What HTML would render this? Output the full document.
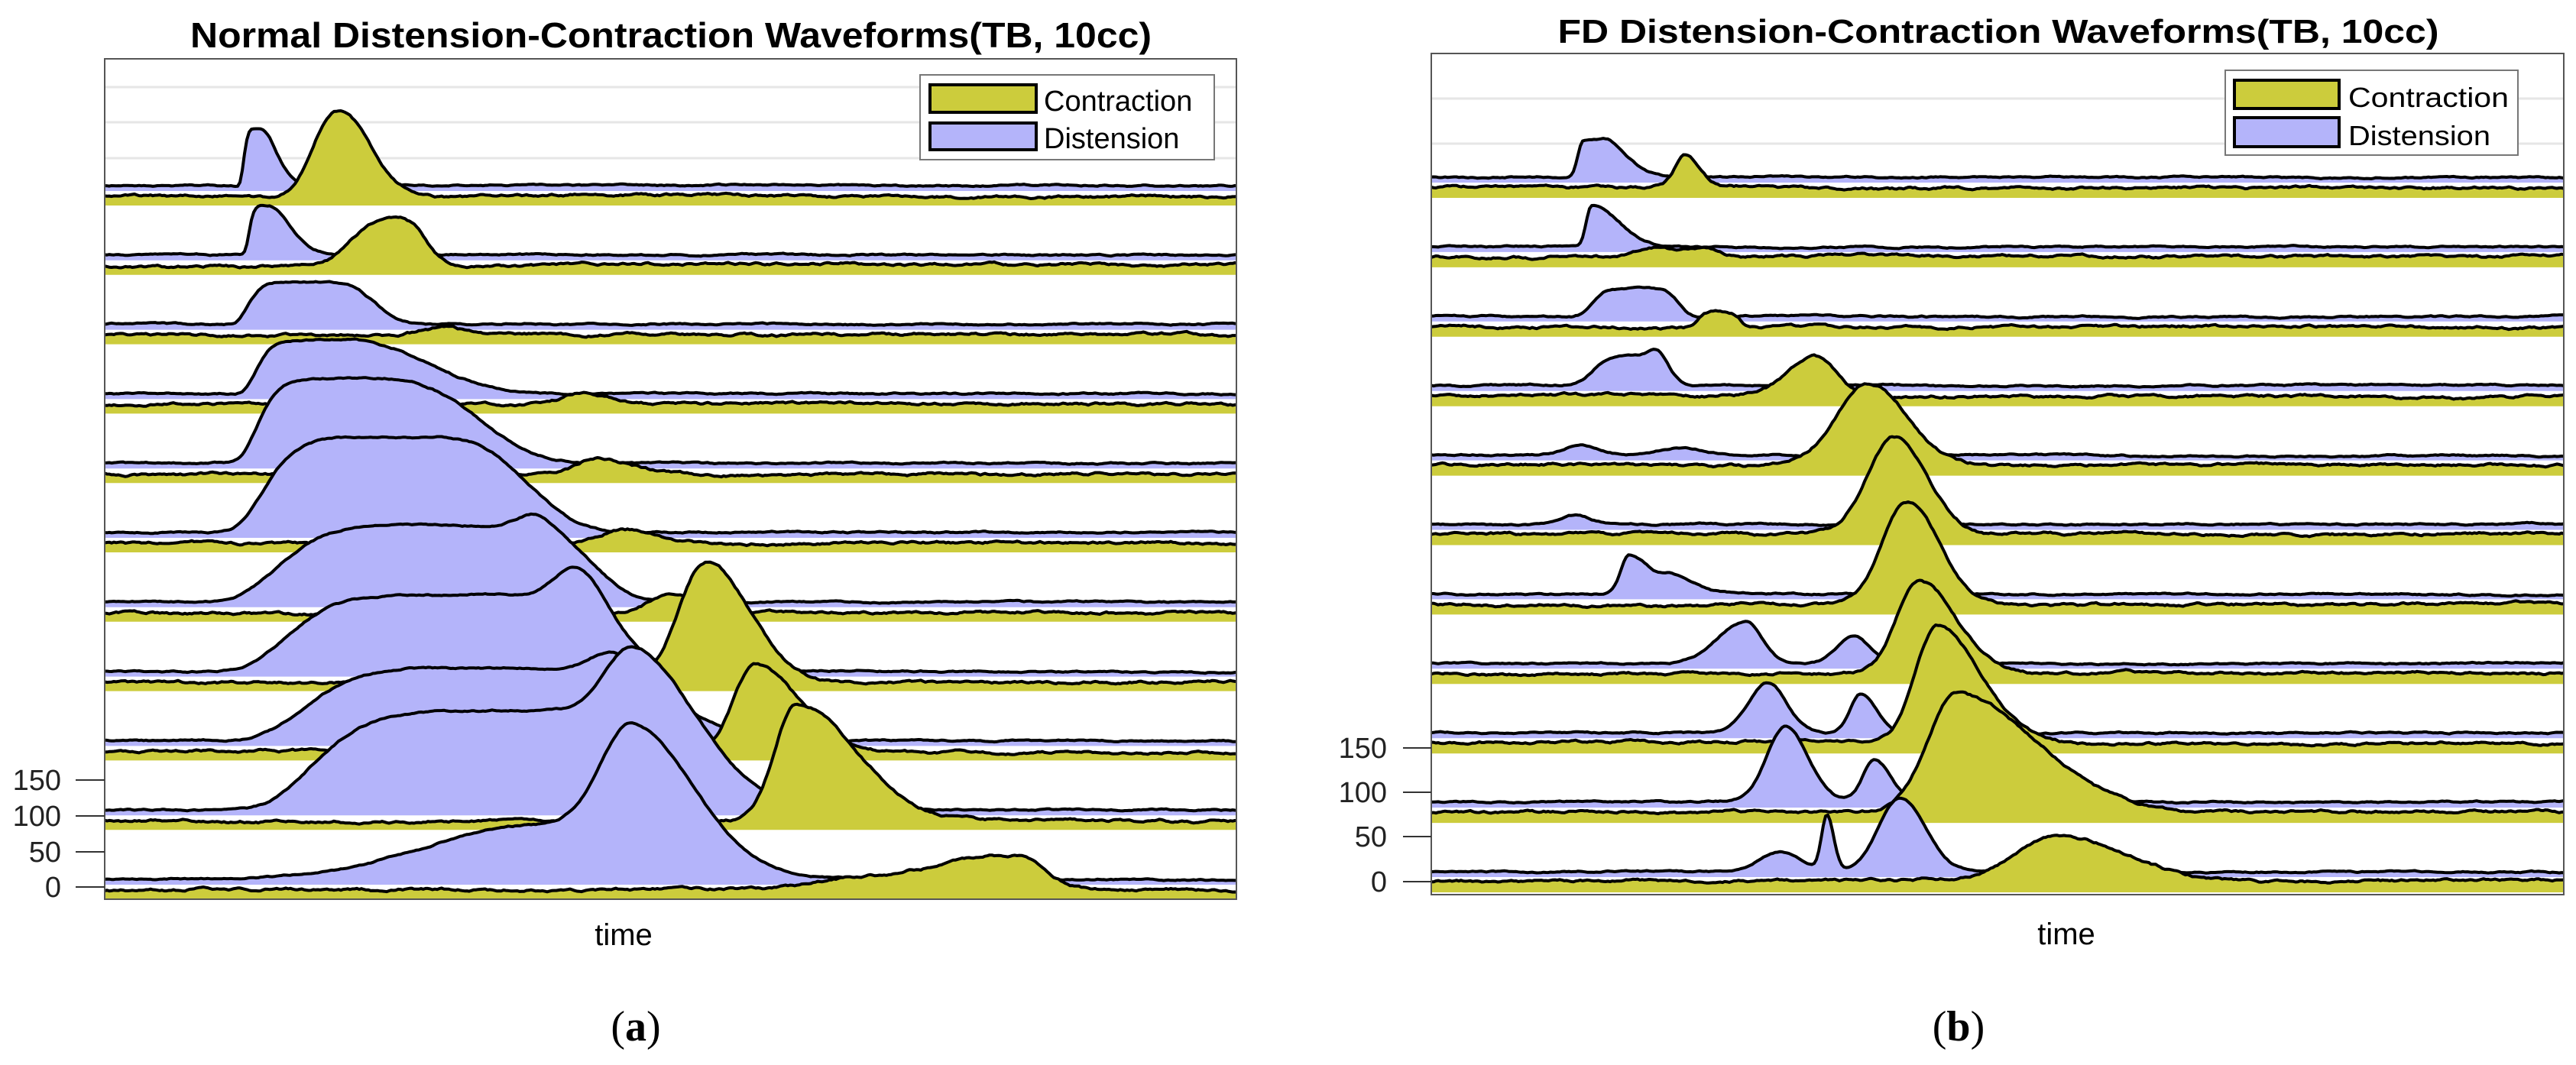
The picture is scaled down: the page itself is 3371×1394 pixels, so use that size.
<!DOCTYPE html>
<html><head><meta charset="utf-8"><style>
html,body{margin:0;padding:0;background:#fff;}
svg{display:block;}
</style></head><body>
<svg id="s" xmlns="http://www.w3.org/2000/svg" width="3371" height="1394" viewBox="0 0 3371 1394">
<defs>
<clipPath id="cl"><rect x="137" y="77" width="1481" height="1100"/></clipPath>
<clipPath id="cr"><rect x="1873" y="70" width="1482" height="1101"/></clipPath>
</defs>
<rect width="3371" height="1394" fill="#fff"/>
<g id="gl" clip-path="url(#cl)"></g>
<g id="gr" clip-path="url(#cr)"></g>
<rect x="137" y="77" width="1481" height="1100" fill="none" stroke="#555" stroke-width="2"/>
<rect x="1873" y="70" width="1482" height="1101" fill="none" stroke="#555" stroke-width="2"/>
<g font-family="Liberation Sans, Arial, sans-serif">
<text x="878" y="62" text-anchor="middle" font-size="46" font-weight="bold" textLength="1258" lengthAdjust="spacingAndGlyphs">Normal Distension-Contraction Waveforms(TB, 10cc)</text>
<text x="2615" y="56" text-anchor="middle" font-size="44" font-weight="bold" textLength="1153" lengthAdjust="spacingAndGlyphs">FD Distension-Contraction Waveforms(TB, 10cc)</text>
<rect x="1204" y="98" width="385" height="111" fill="#fff" stroke="#777" stroke-width="2"/>
<rect x="1217" y="111" width="139" height="36" fill="#CCCC3C" stroke="#000" stroke-width="4"/>
<rect x="1217" y="161" width="139" height="35" fill="#B4B4FA" stroke="#000" stroke-width="4"/>
<text x="1366" y="145" font-size="38">Contraction</text>
<text x="1366" y="194" font-size="38">Distension</text>
<rect x="2912" y="92" width="383" height="111" fill="#fff" stroke="#777" stroke-width="2"/>
<rect x="2924" y="105" width="137" height="37" fill="#CCCC3C" stroke="#000" stroke-width="4"/>
<rect x="2924" y="154" width="137" height="38" fill="#B4B4FA" stroke="#000" stroke-width="4"/>
<text x="3073" y="140" font-size="36" textLength="210" lengthAdjust="spacingAndGlyphs">Contraction</text>
<text x="3073" y="190" font-size="36" textLength="186" lengthAdjust="spacingAndGlyphs">Distension</text>
<g stroke="#333" stroke-width="2">
<line x1="99" y1="1021" x2="137" y2="1021"/><line x1="99" y1="1068" x2="137" y2="1068"/>
<line x1="99" y1="1115" x2="137" y2="1115"/><line x1="99" y1="1161" x2="137" y2="1161"/>
<line x1="1836" y1="979" x2="1873" y2="979"/><line x1="1836" y1="1037" x2="1873" y2="1037"/>
<line x1="1836" y1="1095" x2="1873" y2="1095"/><line x1="1836" y1="1154" x2="1873" y2="1154"/>
</g>
<g font-size="38" text-anchor="end" fill="#222">
<text x="80" y="1034">150</text><text x="80" y="1081">100</text><text x="80" y="1128">50</text><text x="80" y="1174">0</text>
<text x="1815" y="992">150</text><text x="1815" y="1050">100</text><text x="1815" y="1108">50</text><text x="1815" y="1167">0</text>
</g>
<text x="816" y="1237" font-size="40" text-anchor="middle">time</text>
<text x="2704" y="1236" font-size="40" text-anchor="middle">time</text>
</g>
<text x="832" y="1362" font-family="Liberation Serif, serif" font-size="56" text-anchor="middle">(<tspan font-weight="bold">a</tspan>)</text>
<text x="2563" y="1362" font-family="Liberation Serif, serif" font-size="56" text-anchor="middle">(<tspan font-weight="bold">b</tspan>)</text>
</svg>
<script>
(function(){
var NS="http://www.w3.org/2000/svg";
function rng(a){return function(){a|=0;a=a+0x6D2B79F5|0;var t=Math.imul(a^a>>>15,1|a);t=t+Math.imul(t^t>>>7,61|t)^t;return((t^t>>>14)>>>0)/4294967296;}}
function bump(x,b){var c=b[0],h=b[1],l=x<c,w=(l?b[2]:b[3]),p=(l?(b[4]||2):(b[5]||b[4]||2));return h*Math.exp(-Math.pow(Math.abs(x-c)/w,p));}
function curve(x0,x1,base,bumps,amp,seed){
  var r=rng(seed),n=0,pts=[],d=0;
  for(var x=x0;x<=x1;x+=3){
    n=n*0.85+(r()-0.5)*amp; d=d*0.99+(r()-0.5)*amp*0.25;
    var y=base+n+d;
    for(var i=0;i<bumps.length;i++)y-=bump(x,bumps[i]);
    pts.push([x,y]);
  }
  return pts;
}
function add(g,pts,bottom,fill){
  var s="M"+pts[0][0]+","+bottom;
  for(var i=0;i<pts.length;i++)s+="L"+pts[i][0]+","+pts[i][1].toFixed(1);
  s+="L"+pts[pts.length-1][0]+","+bottom+"Z";
  var p=document.createElementNS(NS,"path");p.setAttribute("d",s);p.setAttribute("fill",fill);g.appendChild(p);
  var l="M";for(i=0;i<pts.length;i++)l+=(i?"L":"")+pts[i][0]+","+pts[i][1].toFixed(1);
  var q=document.createElementNS(NS,"path");q.setAttribute("d",l);q.setAttribute("fill","none");q.setAttribute("stroke","#000");q.setAttribute("stroke-width","4");q.setAttribute("stroke-linejoin","round");g.appendChild(q);
}
function grid(g,x0,x1,ys){ys.forEach(function(y){var l=document.createElementNS(NS,"line");l.setAttribute("x1",x0);l.setAttribute("x2",x1);l.setAttribute("y1",y);l.setAttribute("y2",y);l.setAttribute("stroke","#e6e6e6");l.setAttribute("stroke-width","3");g.appendChild(l);});}
var Y="#CCCC3C",P="#B4B4FA";
var L=[
 [[[340,75,22,30,6,2]],[[445,113,45,55,2.5,2]]],
 [[[350,63,25,40,6,2]],[[515,62,65,50,2.5,3]]],
 [[[420,56,98,80,8,3]],[[580,10,40,40]]],
 [[[440,71,107,150,8,2.5]],[[763,15,40,50]]],
 [[[480,110,147,170,8,3]],[[784,20,40,60]]],
 [[[560,125,221,150,8,3]],[[816,20,40,60]]],
 [[[690,100,336,100,8,2.5],[698,15,30,30]],[[880,28,40,50]]],
 [[[700,100,335,120,8,2.5],[760,50,40,50]],[[924,158,50,80]]],
 [[[760,95,373,150,8,2.5],[805,25,40,60]],[[988,114,40,80]]],
 [[[780,130,383,170,8,2.5],[830,90,50,100]],[[1042,155,40,110]]],
 [[[700,70,200,200],[830,159,60,110]],[[1330,45,170,50],[1100,8,60,60]]]
];
var gl=document.getElementById("gl");
grid(gl,137,1618,[114,160,207]);
for(var i=0;i<L.length;i++){
  var b=243+i*90.8;
  add(gl,curve(137,1620,b,L[i][0],1.2,11+i),b+7,P);
  add(gl,curve(137,1620,b+14,L[i][1],2,101+i),b+26,Y);
}
var R=[
 [[[2072,48,10,50],[2110,20,20,40]],[[2206,41,20,25]]],
 [[[2083,55,10,50]],[[2160,12,30,40],[2230,10,30,30]]],
 [[[2140,37,60,60,5]],[[2250,20,30,30,4]]],
 [[[2140,40,60,50,4],[2170,10,15,15]],[[2375,52,50,40]]],
 [[[2070,12,30,30],[2200,8,40,40]],[[2446,107,60,70]]],
 [[[2060,12,30,30]],[[2479,128,50,60]]],
 [[[2132,51,15,40],[2190,20,20,40]],[[2495,135,45,60]]],
 [[[2284,55,50,30],[2425,35,30,30]],[[2510,122,40,70]]],
 [[[2313,67,35,35],[2435,52,20,30]],[[2535,152,40,80]]],
 [[[2337,98,35,40],[2452,54,20,30]],[[2558,153,50,150]]],
 [[[2329,25,40,40],[2391,72,10,12],[2487,96,40,45]],[[2697,59,80,120]]]
];
var gr=document.getElementById("gr");
grid(gr,1873,3355,[129,188]);
for(i=0;i<R.length;i++){
  b=232+i*90.9;
  add(gr,curve(1873,3357,b,R[i][0],1.2,211+i),b+7,P);
  add(gr,curve(1873,3357,b+13,R[i][1],2,301+i),b+27,Y);
}
})();
</script>
</body></html>
